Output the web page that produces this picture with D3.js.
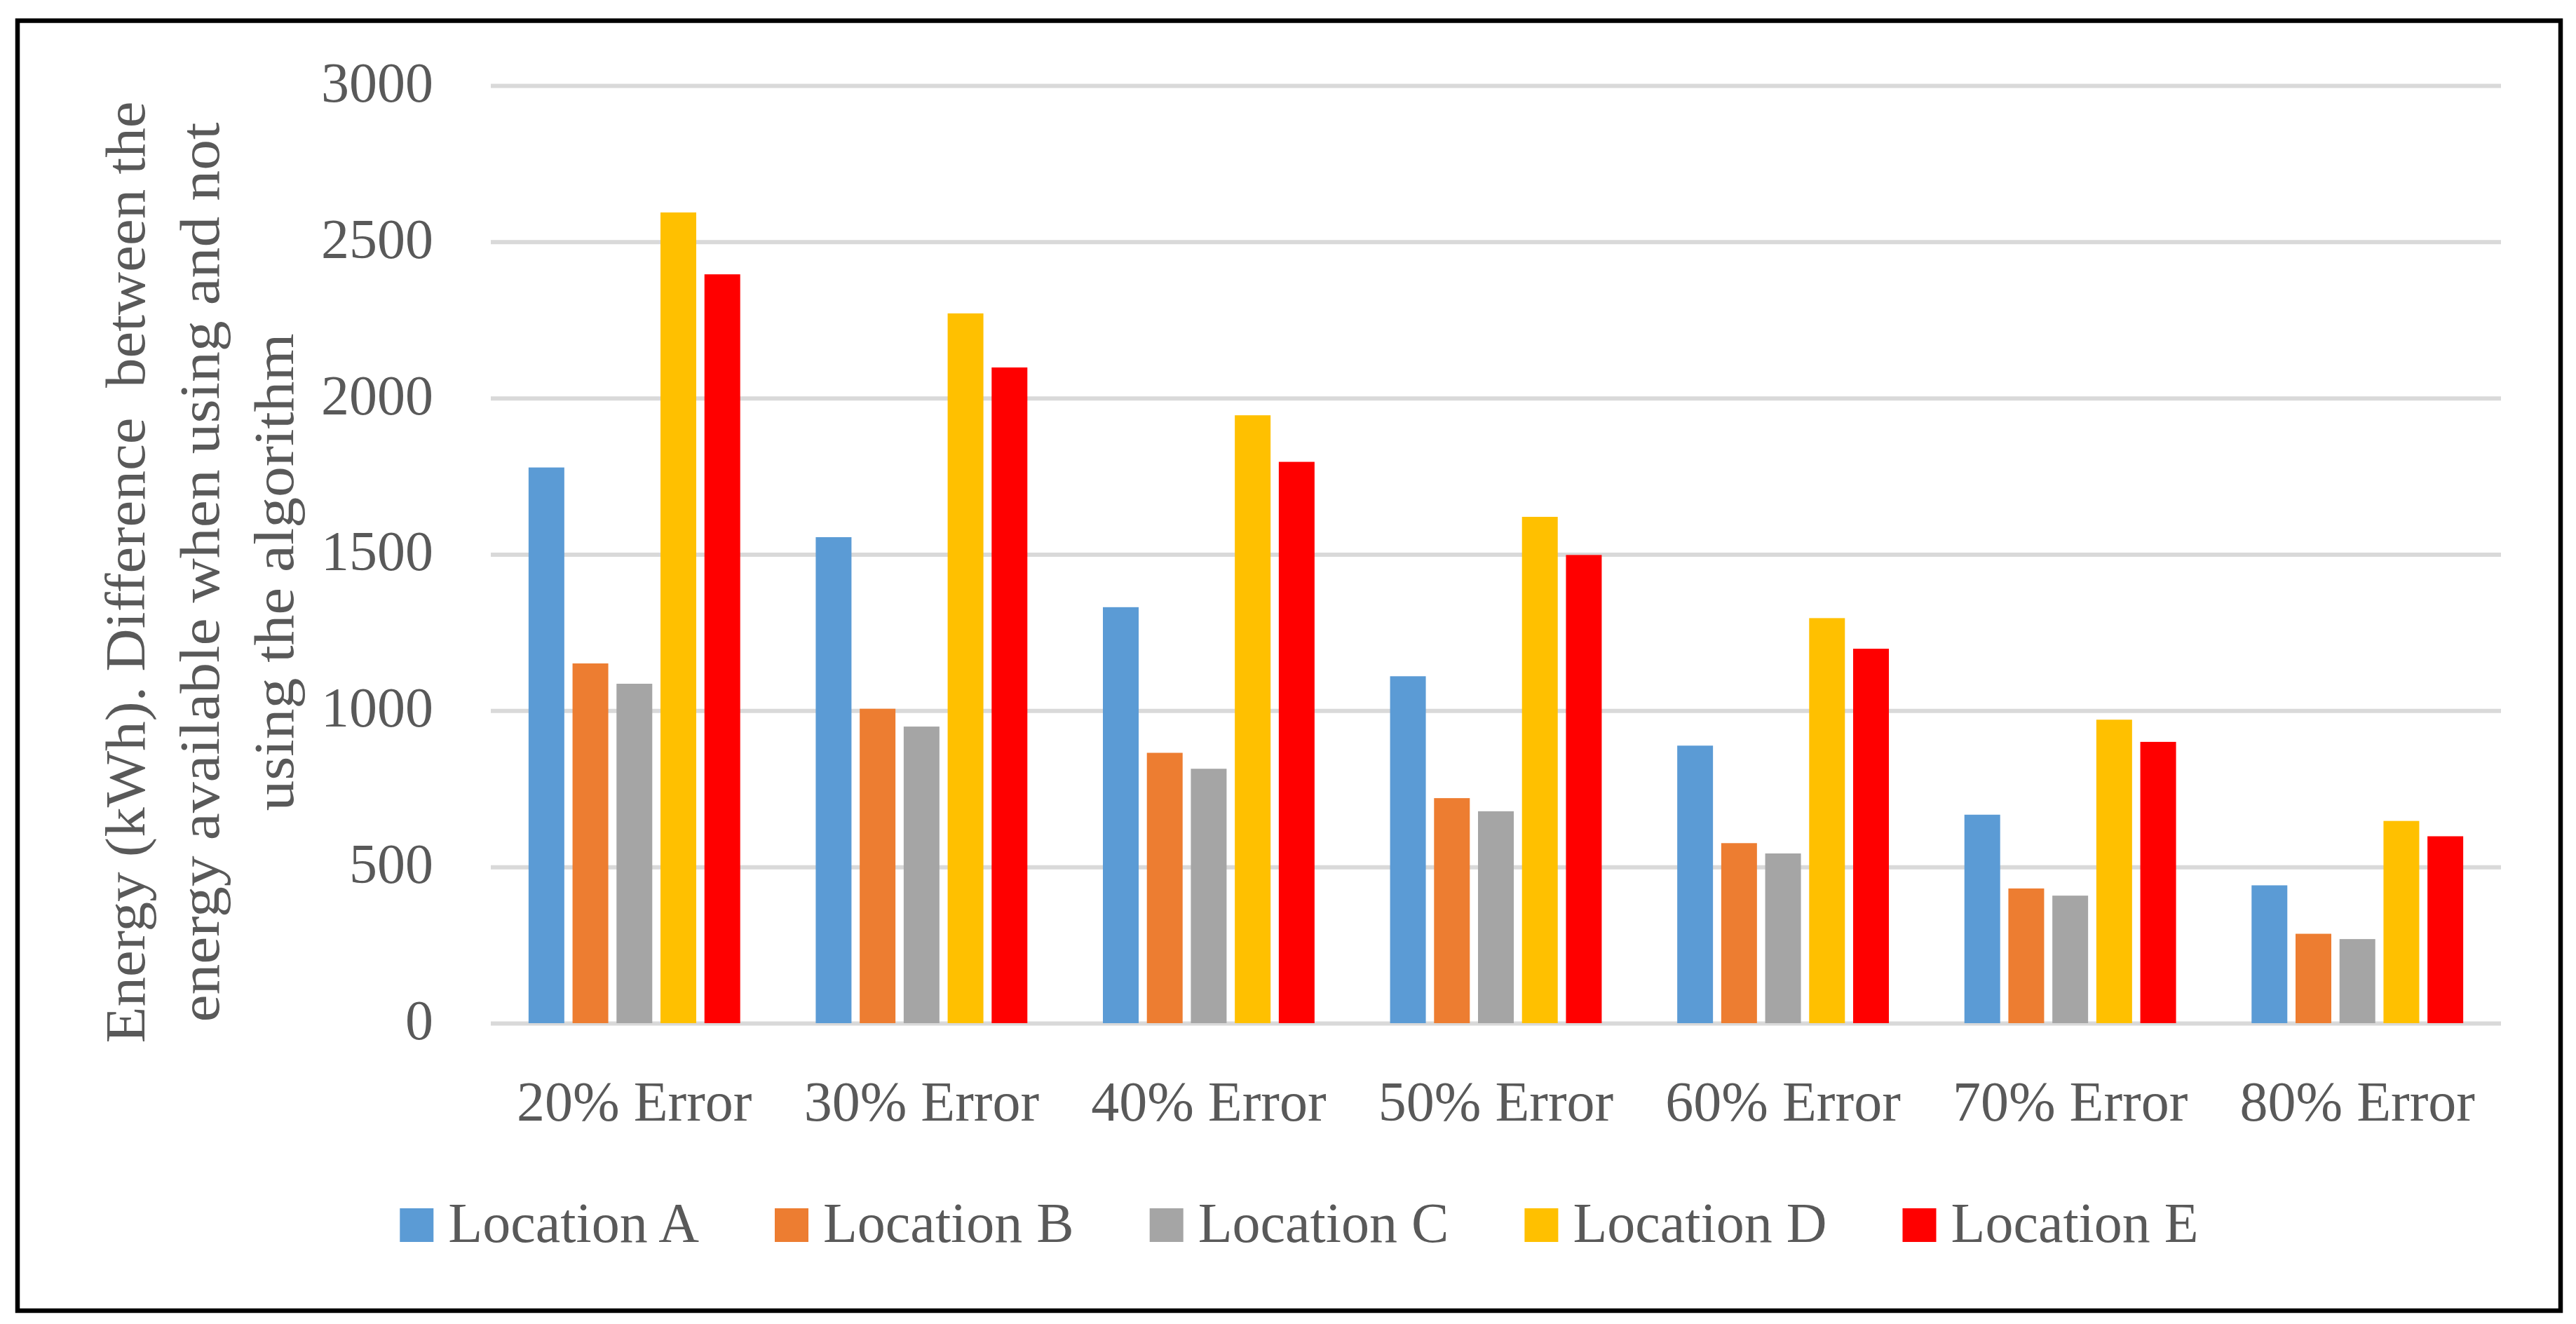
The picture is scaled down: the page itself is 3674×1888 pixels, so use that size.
<!DOCTYPE html>
<html>
<head>
<meta charset="utf-8">
<script src="https://cdn.jsdelivr.net/npm/d3@7/dist/d3.min.js"></script>
<style>
  body { margin: 0; background: #fff; }
</style>
</head>
<body>
<div class="chart"></div>
<script>
var categories = ["20% Error", "30% Error", "40% Error", "50% Error", "60% Error", "70% Error", "80% Error"];
var seriesNames = ["Location A", "Location B", "Location C", "Location D", "Location E"];
var seriesColors = ["#5b9bd5", "#ed7d31", "#a5a5a5", "#ffc000", "#ff0000"];
var locationA = [1778, 1555, 1331, 1110, 888, 667, 441];
var locationB = [1151, 1006, 865, 720, 576, 431, 286];
var locationC = [1086, 949, 814, 678, 543, 408, 269];
var locationD = [2594, 2271, 1945, 1620, 1296, 971, 647];
var locationE = [2396, 2098, 1796, 1498, 1198, 900, 598];
var yTicks = [0, 500, 1000, 1500, 2000, 2500, 3000];
var titleLines = ["Energy (kWh). Difference  between the", "energy available when using and not", "using the algorithm"];

var seriesValues = [locationA, locationB, locationC, locationD, locationE];

var W = 3674, H = 1888;
var plot = {left: 700, right: 3567, top: 122, bottom: 1459};
var fontSize = 80;
var serif = '"Liberation Serif", "Times New Roman", serif';
var textColor = '#595959';
// widths of the (wider, justified) title lines in the original
var titleWidths = [1343, 1283, 681];

function styleText(sel) {
  sel.style('font-family', serif)
    .style('font-size', fontSize + 'px')
    .style('fill', textColor);
}

var svg = d3.select('div.chart').append('svg')
    .attr('width', W)
    .attr('height', H);

// frame
svg.append('rect')
  .attr('x', 25).attr('y', 29.5)
  .attr('width', 3652 - 25).attr('height', 1869 - 29.5)
  .attr('fill', 'none')
  .attr('stroke', '#000')
  .attr('stroke-width', 6.5);

var x0 = d3.scaleBand()
    .domain(categories)
    .range([plot.left, plot.right])
    .paddingInner(0.263)
    .paddingOuter(0.1315);

var x1 = d3.scaleBand()
    .domain(seriesNames)
    .range([0, x0.bandwidth()])
    .paddingInner(0.187);

var y = d3.scaleLinear()
    .domain([0, 3000])
    .range([plot.bottom, plot.top]);

// gridlines
var grid = svg.append('g')
    .attr('class', 'grid')
    .attr('transform', 'translate(' + plot.left + ',0)')
    .call(d3.axisLeft(y).tickValues(yTicks).tickSize(-(plot.right - plot.left)).tickFormat(''));
grid.select('.domain').remove();
grid.selectAll('line').attr('stroke', '#d9d9d9').attr('stroke-width', 6);

// y tick labels
var yAxis_g = svg.append('g')
    .attr('class', 'y axis')
    .attr('transform', 'translate(618,0)')
    .call(d3.axisLeft(y).tickValues(yTicks).tickFormat(d3.format('d')).tickSize(0).tickPadding(0));
yAxis_g.select('.domain').remove();
yAxis_g.selectAll('text')
  .attr('dy', '0.28em')
  .call(styleText);

// bars
var groups = svg.selectAll('g.group')
  .data(categories)
  .enter()
  .append('g')
  .attr('class', 'group')
  .attr('transform', function (d) { return 'translate(' + x0(d) + ',0)'; });

groups.selectAll('rect')
  .data(function (d, i) {
    return seriesNames.map(function (s, j) { return {series: s, value: seriesValues[j][i], color: seriesColors[j]}; });
  })
  .enter()
  .append('rect')
  .attr('x', function (d) { return x1(d.series); })
  .attr('y', function (d) { return y(d.value); })
  .attr('width', x1.bandwidth())
  .attr('height', function (d) { return y(0) - y(d.value); })
  .attr('fill', function (d) { return d.color; });

// x labels
var xAxis_g = svg.append('g')
    .attr('class', 'x axis')
    .attr('transform', 'translate(0,' + plot.bottom + ')')
    .call(d3.axisBottom(x0).tickSize(0).tickPadding(0));
xAxis_g.select('.domain').remove();
xAxis_g.selectAll('text')
  .attr('y', 139)
  .attr('dy', 0)
  .call(styleText);

// y title, stretched to the width of the original lines
svg.append('g')
  .attr('transform', 'translate(206,816) rotate(-90)')
  .selectAll('text')
  .data(titleLines)
  .enter()
  .append('text')
  .attr('x', 0)
  .attr('y', function (d, i) { return i * 106; })
  .attr('text-anchor', 'middle')
  .attr('textLength', function (d, i) { return titleWidths[i]; })
  .attr('lengthAdjust', 'spacingAndGlyphs')
  .style('white-space', 'pre')
  .text(function (d) { return d; })
  .call(styleText);

// legend
var legend = svg.append('g').attr('class', 'legend');
var items = legend.selectAll('g')
  .data(seriesNames)
  .enter()
  .append('g');
items.append('rect')
  .attr('width', 48).attr('height', 48)
  .attr('y', 1723)
  .attr('fill', function (d, i) { return seriesColors[i]; });
items.append('text')
  .attr('x', 69)
  .attr('y', 1771)
  .text(function (d) { return d; })
  .call(styleText);

var widths = [];
items.each(function () { widths.push(d3.select(this).select('text').node().getComputedTextLength()); });
var total = d3.sum(widths, function (w) { return 48 + 21 + w; }) + 108 * (widths.length - 1);
var cursor = 1853 - total / 2;
items.attr('transform', function (d, i) {
  var tx = cursor;
  cursor += 48 + 21 + widths[i] + 108;
  return 'translate(' + tx + ',0)';
});
</script>
</body>
</html>
